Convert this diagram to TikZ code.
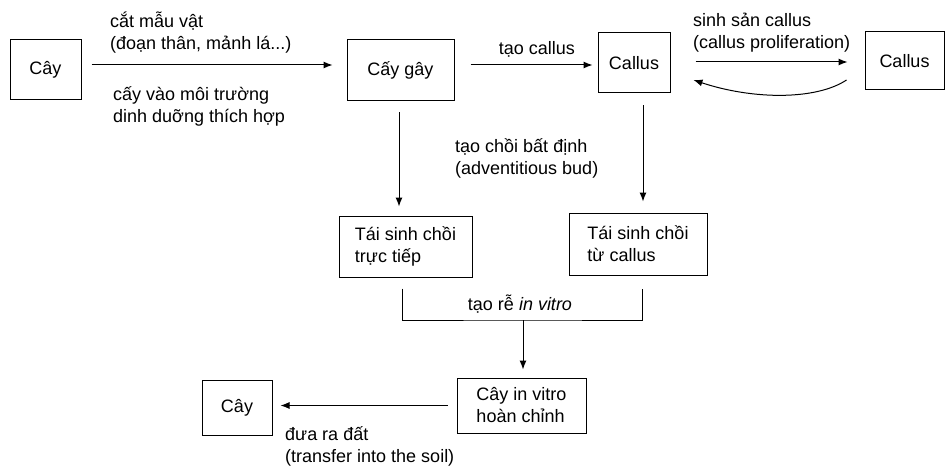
\documentclass[tikz,border=0pt]{standalone}
\usepackage{fontspec}
\setmainfont{Liberation Sans}
\usetikzlibrary{arrows.meta}
\tikzset{
    box/.style={draw, line width=1pt, inner sep=0pt, align=left, font=\fontsize{18}{22}\selectfont},
    lbl/.style={inner sep=0pt, align=left, font=\fontsize{18}{22}\selectfont},
    conn/.style={line width=1pt},
    arr/.style={conn, -{Latex[length=9pt,width=7pt]}}
}

\begin{document}
\begin{tikzpicture}[x=1pt, y=-1pt]
        \useasboundingbox (0,0) rectangle (945,468);
        % boxes
        \node[box, minimum width=71,  minimum height=60] (cay1)    at ( 45.5, 70.0) {Cây};
        \node[box, minimum width=107, minimum height=61] (caygay)  at (400.5, 70.5) {Cấy gây};
        \node[box, minimum width=72,  minimum height=60] (callus1) at (634.0, 63.0) {Callus};
        \node[box, minimum width=79,  minimum height=58] (callus2) at (904.5, 61.0) {Callus};
        \node[box, minimum width=133, minimum height=61] (tsc1)    at (405.5,246.5) {Tái sinh chồi\\trực tiếp};
        \node[box, minimum width=138, minimum height=62] (tsc2)    at (638.0,244.0) {Tái sinh chồi\\từ callus};
        \node[box, minimum width=129, minimum height=55] (cayiv)   at (521.5,405.5) {Cây in vitro\\hoàn chỉnh};
        \node[box, minimum width=70,  minimum height=55] (cay2)    at (237.0,407.5) {Cây};
        % labels (base = last line)
        \node[lbl, anchor=base west] (lcut)     at (110, 50) {cắt mẫu vật\\(đoạn thân, mảnh lá...)};
        \node[lbl, anchor=base west] (lculture) at (113,123) {cấy vào môi trường\\dinh duỡng thích hợp};
        \node[lbl, anchor=base]      (lcallus)  at (537, 55) {tạo callus};
        \node[lbl, anchor=base west] (lprolif)  at (693, 49) {sinh sản callus\\(callus proliferation)};
        \node[lbl, anchor=base west] (lbud)     at (455,175) {tạo chồi bất định\\(adventitious bud)};
        \node[lbl, anchor=base]      (lroot)    at (520,310) {tạo rễ \textit{in vitro}};
        \node[lbl, anchor=base west] (lsoil)    at (285,462) {đưa ra đất\\(transfer into the soil)};
        % connectors
        \draw[arr] ([xshift=10pt,yshift=5pt]cay1.east)     -- ([xshift=-14pt,yshift=5.5pt]caygay.west);
        \draw[arr] ([xshift=16pt,yshift=5.5pt]caygay.east) -- ([xshift=-5pt,yshift=-2pt]callus1.west);
        \draw[arr] ([xshift=25pt,yshift=1pt]callus1.east)  -- ([xshift=-17pt,yshift=-1pt]callus2.west);
        \draw[arr] ([xshift=-18pt,yshift=-19pt]callus2.west)
            .. controls +(-30pt,-20pt) and +(60pt,-20pt) .. ([xshift=23pt,yshift=-17pt]callus1.east);
        \draw[arr] ([xshift=-1.5pt,yshift=-11pt]caygay.south) -- ([xshift=-1.5pt,yshift=9pt]caygay.south |- tsc1.north);
        \draw[arr] ([xshift=9pt,yshift=-12pt]callus1.south)   -- ([xshift=9pt,yshift=11pt]callus1.south |- tsc2.north);
        \coordinate (root) at (523,320);
        \draw[conn] ([xshift=-3.5pt,yshift=-11pt]tsc1.south) |- (root) -| ([xshift=4pt,yshift=-13pt]tsc2.south);
        \draw[arr] (root) -- ([yshift=8pt]root |- cayiv.north);
        \draw[arr] ([xshift=-9pt]cayiv.west) -- ([xshift=8pt]cay2.east |- cayiv.west);
\end{tikzpicture}
\end{document}
